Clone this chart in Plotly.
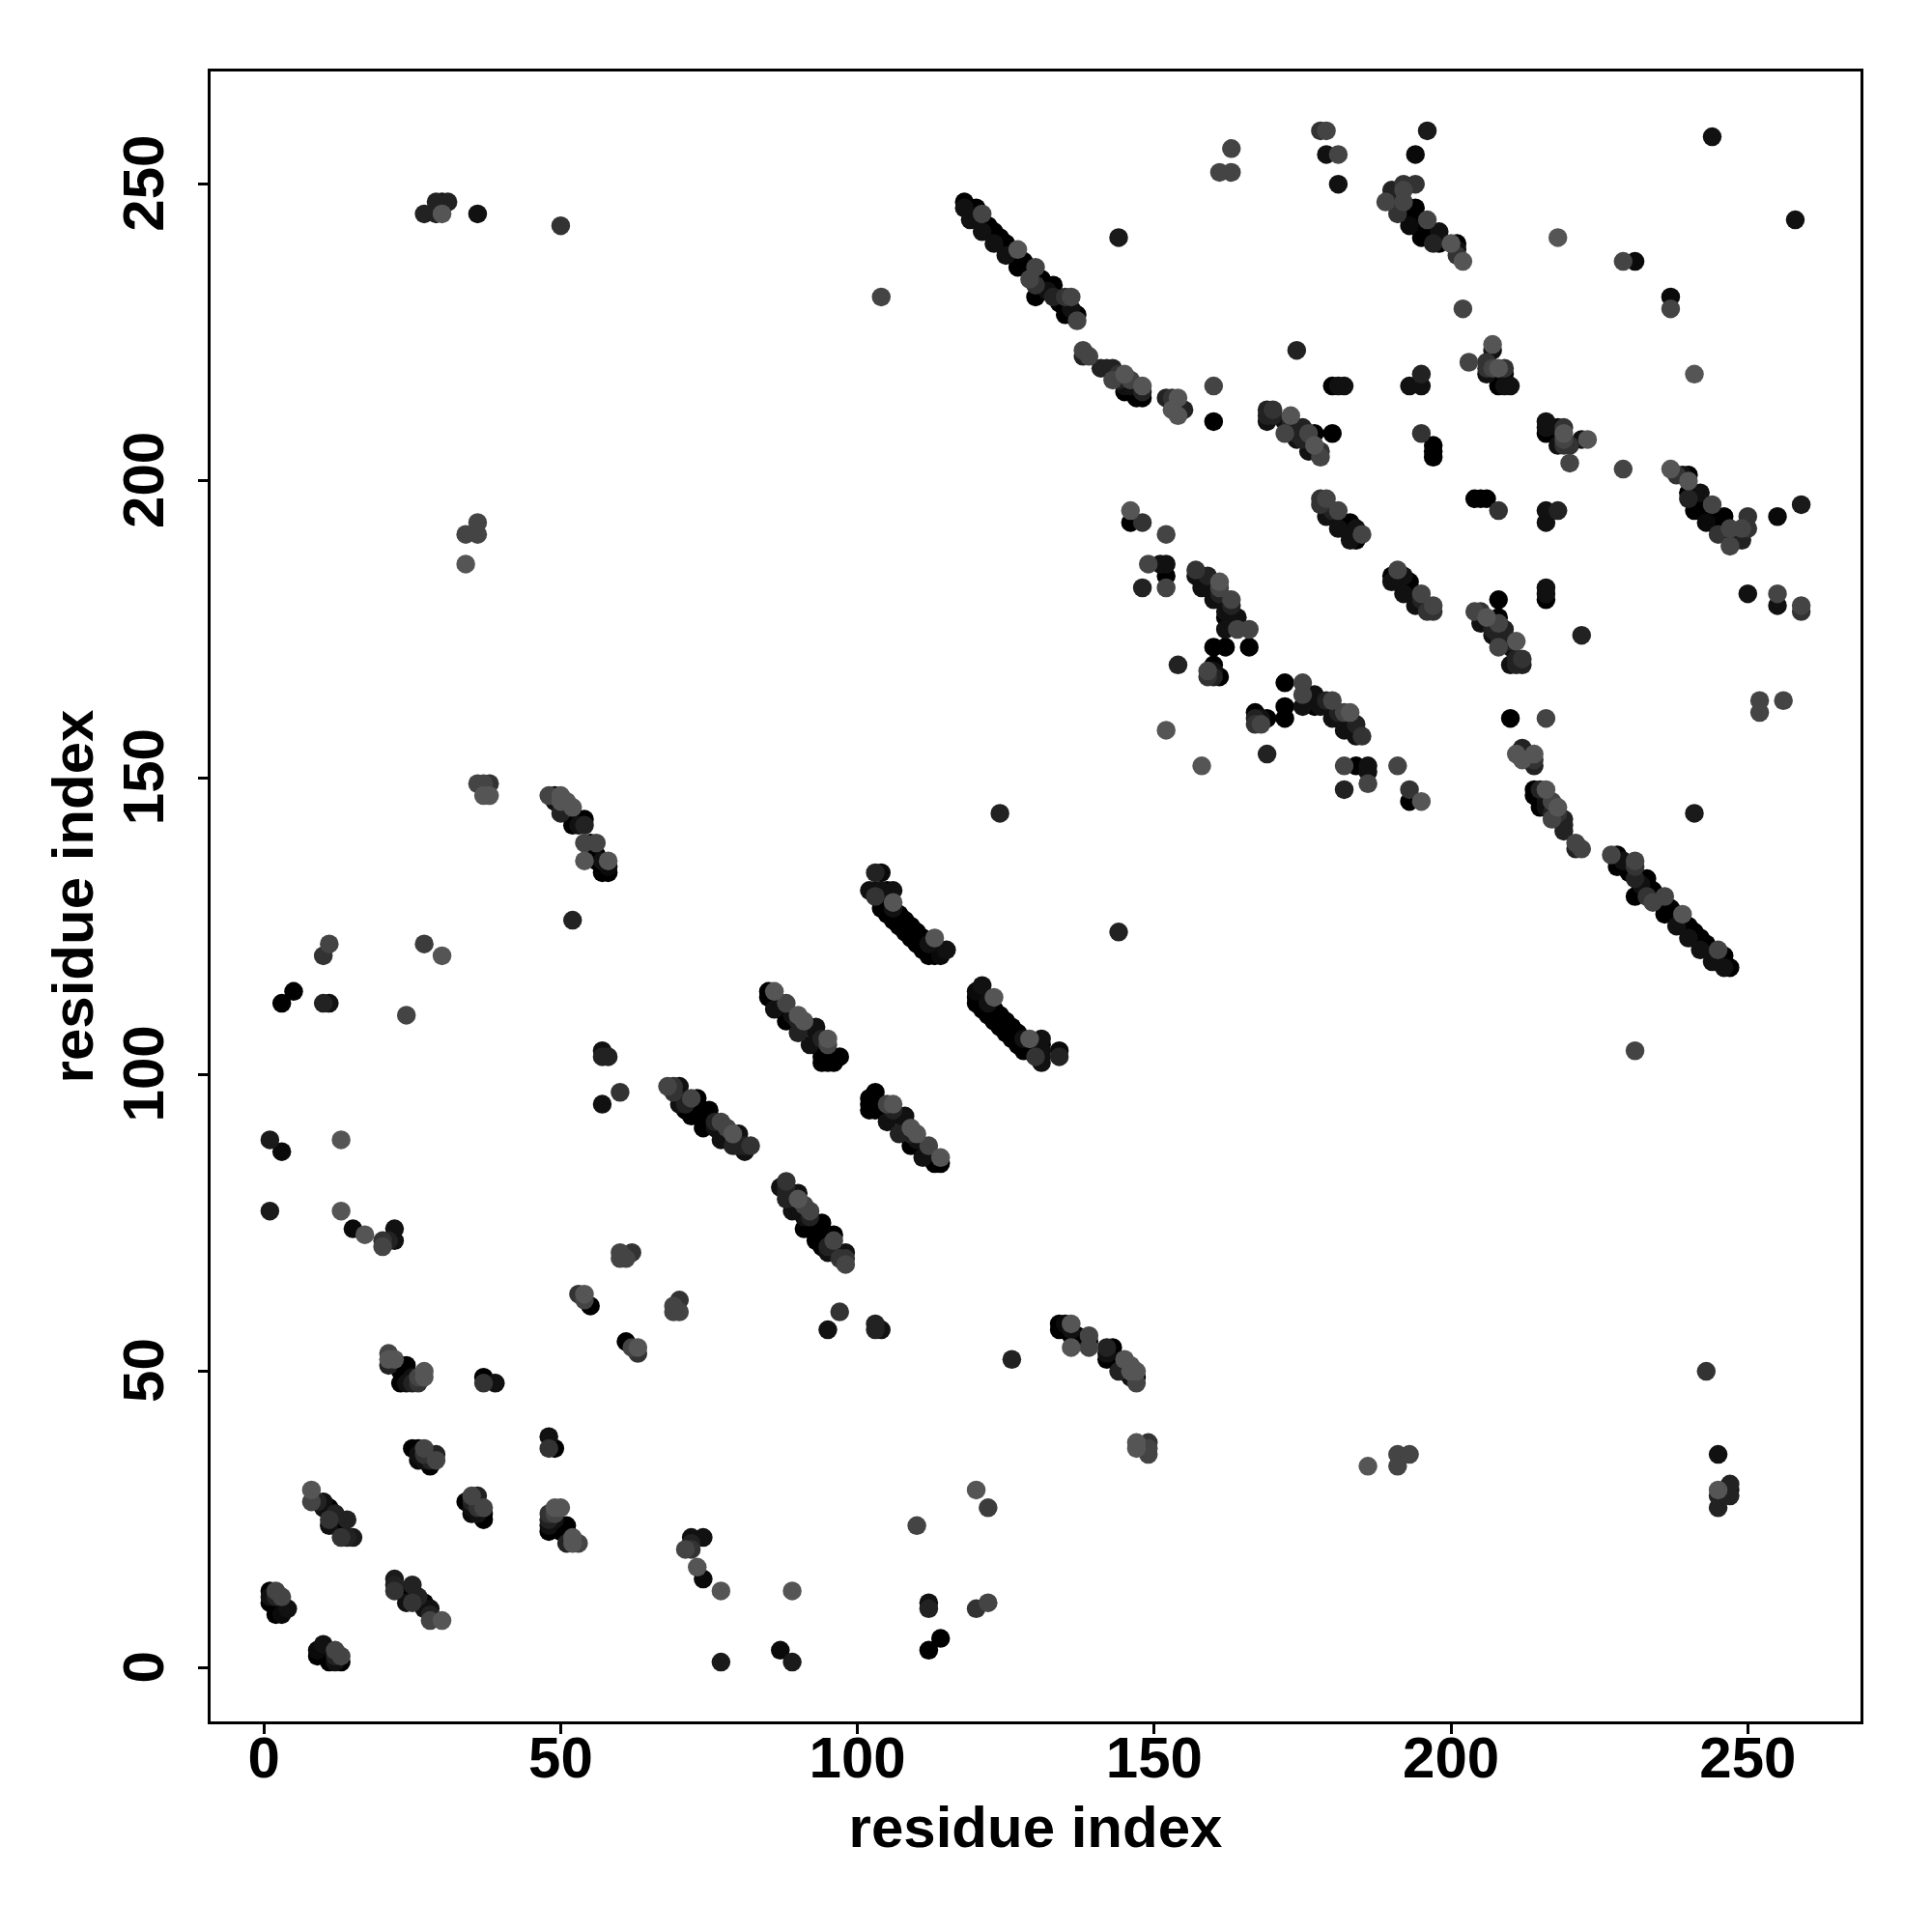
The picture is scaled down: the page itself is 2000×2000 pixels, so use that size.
import plotly.graph_objects as go

# Contacts: residue pairs with i < j; the map is symmetric.
res_i = [
 1,1,1,2,2,3,3,4,2,3,
 8,8,9,10,10,11,11,12,11,11,12,13,13,14,13,14,15,
 21,21,22,21,23,24,23,24,25,23,24,25,26,26,27,27,
 25,26,27,26,27,29,29,26,27,28,28,
 37,37,39,1,13,15,17,22,22,20,20,21,53,54,54,55,60,60,61,62,
 36,37,38,37,38,
 48,49,50,51,50,52,49,50,53,54,52,53,54,54,55,56,54,55,56,58,57,56,57,58,58,57,
 52,11,10,27,30,5,3,10,11,24,57,57,58,60,57,1,3,13,124,104,
 68,69,70,69,70,71,71,72,73,72,73,73,74,74,74,75,75,75,76,76,77,77,78,78,79,79,80,80,80,81,81,82,
 85,85,86,86,88,86,87,88,90,91,89,90,92,93,92,95,95,94,94,95,96,96,97,93,94,94,88,90,
 103,104,102,103,104,105,106,103,104,106,105,106,106,107,107,108,108,109,109,110,110,111,111,112,112,113,113,113,114,115,
 118,118,119,120,119,121,121,122,123,123,124,125,125,126,127,127,128,130,129,130,130,131,132,133,132,133,134,135,136,136,135,136,137,137,
 138,138,139,141,142,143,144,143,144,145,146,145,146,145,147,148,148,148,152,153,154,154,153,154,155,160,160,174,180,181,182,181,144,
 169,169,169,170,170,173,172,173,172,174,174,175,175,176,177,180,176,177,178,178,
 178,179,178,179,180,181,181,182,182,183,183,184,183,184,185,
 146,146,148,152,149,151,152,152,148,152,152,154,
 157,157,158,158,159,159,161,161,160,160,161,163,163,162,163,162,164,162,164,166,160,162,166,160,159,160,159,160,161,
 192,194,190,192,190,189,191,192,191,194,193,196,194,195,196,198,197,198,200,201,201,201,202,198,195,192,196,194,244,218,229,231,202,
 207,207,203,206,209,206,207,208,206,208,209,208,209,210,195,193,195,195,197,197,197,
 178,179,179,181,161,163,163,27,29,30,29,30,31,36,50,34,34,36,36,
]
res_j = [
 13,12,11,13,12,12,10,10,9,9,
 30,28,28,28,27,27,26,26,25,24,24,24,23,25,22,22,22,
 53,52,52,51,51,51,50,50,49,48,48,48,49,48,50,49,
 37,37,37,36,36,36,35,35,35,35,34,
 49,48,48,77,77,74,73,74,72,72,71,72,63,63,62,61,70,69,69,70,
 149,149,149,147,147,
 147,147,147,146,146,145,146,144,143,143,142,142,142,139,139,139,136,137,137,136,136,136,134,134,135,135,
 126,122,120,122,120,114,112,112,112,110,104,103,103,97,95,89,87,89,144,231,
 98,98,98,97,95,95,94,96,96,93,94,93,93,92,91,94,93,92,92,91,92,89,91,90,90,88,90,89,88,88,87,88,
 114,113,114,111,112,112,112,109,110,109,110,107,108,108,105,106,105,106,102,102,102,103,103,105,104,103,110,109,
 134,134,131,131,131,131,131,130,128,129,127,128,126,127,125,126,124,125,123,124,122,123,121,122,120,123,121,120,120,121,
 247,246,246,246,244,245,242,243,242,240,241,240,238,239,239,236,237,236,234,233,231,234,233,233,232,231,230,231,231,229,228,228,228,227,
 222,221,221,219,219,219,218,217,217,218,217,216,216,215,214,214,215,216,214,214,214,212,212,211,212,216,210,222,216,216,216,250,241,
 212,211,210,212,211,211,210,210,208,208,207,209,207,208,208,208,205,206,205,204,
 197,197,196,194,195,195,192,193,192,193,191,192,190,190,191,
 195,193,193,191,186,186,186,184,182,182,158,169,
 185,184,183,182,184,183,183,182,180,181,181,180,179,178,178,177,177,175,175,175,172,172,172,169,168,168,167,167,167,
 250,250,249,249,248,247,247,247,245,246,243,244,244,241,242,242,240,240,240,240,239,238,237,241,243,245,259,255,258,241,237,237,229,
 223,222,220,220,219,219,219,219,218,218,218,216,216,216,218,216,216,208,206,205,204,
 259,259,255,255,252,252,256,245,245,245,247,247,247,245,243,186,191,191,193,
]
gray = [
 0,17,0,68,34,68,0,17,0,10,
 85,68,34,17,17,0,17,34,51,17,0,0,0,34,51,34,26,
 68,85,85,34,0,0,0,0,17,0,17,34,68,51,85,85,
 0,0,68,17,51,34,68,10,17,34,0,
 0,51,17,26,85,10,85,17,17,51,68,34,51,85,68,0,68,68,68,51,
 68,68,51,85,85,
 68,0,85,85,85,85,17,34,0,0,0,17,34,68,0,68,85,0,0,85,17,0,0,0,10,0,
 34,68,51,60,85,0,0,34,17,68,17,34,34,51,17,26,10,85,34,68,
 68,51,17,51,17,34,0,68,0,0,0,0,0,0,0,0,0,0,34,17,68,17,68,0,85,34,17,17,34,34,17,51,
 0,0,85,17,68,0,17,0,85,85,17,34,17,17,17,85,68,34,0,0,0,0,0,0,0,0,0,34,
 34,10,17,17,17,0,17,51,0,85,0,17,0,0,0,0,0,0,0,0,0,0,0,17,0,85,0,0,10,17,
 0,17,0,0,17,68,17,0,0,17,0,0,17,0,85,0,0,68,68,51,0,0,0,0,17,34,0,51,68,17,0,0,0,68,
 68,34,68,34,34,34,51,68,34,85,68,17,17,0,0,0,34,85,34,51,85,17,85,85,34,68,0,34,0,17,17,17,26,
 34,34,17,51,34,85,17,34,68,34,17,34,34,68,0,0,17,85,51,68,
 51,68,51,17,34,68,17,0,0,0,17,17,17,0,68,
 85,0,51,68,68,17,17,0,34,68,85,34,
 51,17,17,17,34,0,85,68,17,0,34,68,34,17,17,0,17,17,68,68,0,0,0,0,68,17,51,34,0,
 51,51,34,68,17,68,0,68,51,0,10,68,0,0,0,17,34,0,85,0,17,51,85,17,0,0,26,10,17,85,68,10,68,
 85,17,68,51,51,51,68,85,17,0,10,0,17,17,34,17,17,51,0,0,0,
 51,68,17,68,68,68,68,34,34,85,34,17,34,17,51,85,68,68,68,
]
assert len(res_i) == len(res_j) == len(gray), (len(res_i), len(res_j), len(gray))

tick_values = [0, 50, 100, 150, 200, 250]
axis_label = "residue index"

# The map is symmetric; paler marks sit on top of darker ones, as they mostly do in the picture.
points = sorted(zip(res_i + res_j, res_j + res_i, gray + gray), key=lambda p: p[2])
xs = [p[0] for p in points]
ys = [p[1] for p in points]
shades = [f"rgb({p[2]},{p[2]},{p[2]})" for p in points]

FONT = "Liberation Sans"
fig = go.Figure(go.Scatter(
    x=xs, y=ys, mode="markers",
    marker=dict(size=19.5, color=shades, line=dict(width=0), opacity=1),
    showlegend=False,
))
axis = dict(
    range=[-8.99, 268.99], tickmode="array", tickvals=tick_values,
    ticks="outside", ticklen=10, tickwidth=3, tickcolor="black",
    showline=True, linewidth=3, linecolor="black", mirror=True,
    showgrid=False, zeroline=False,
    tickfont=dict(family=FONT, size=60, color="black", weight=700),
)
fig.update_layout(
    width=2000, height=2000, autosize=False,
    margin=dict(l=210, r=82, t=66, b=226, pad=0),
    plot_bgcolor="white", paper_bgcolor="white",
    xaxis=dict(axis, ticklabelstandoff=-27,
               title=dict(text=f"<b>{axis_label}</b>", standoff=18,
                          font=dict(family=FONT, size=60, color="black"))),
    yaxis=dict(axis, tickangle=-90, ticklabelstandoff=12, ticklabelshift=8,
               title=dict(text=f"<b>{axis_label}</b>", standoff=0,
                          font=dict(family=FONT, size=60, color="black"))),
)
fig.write_html("out.html")
